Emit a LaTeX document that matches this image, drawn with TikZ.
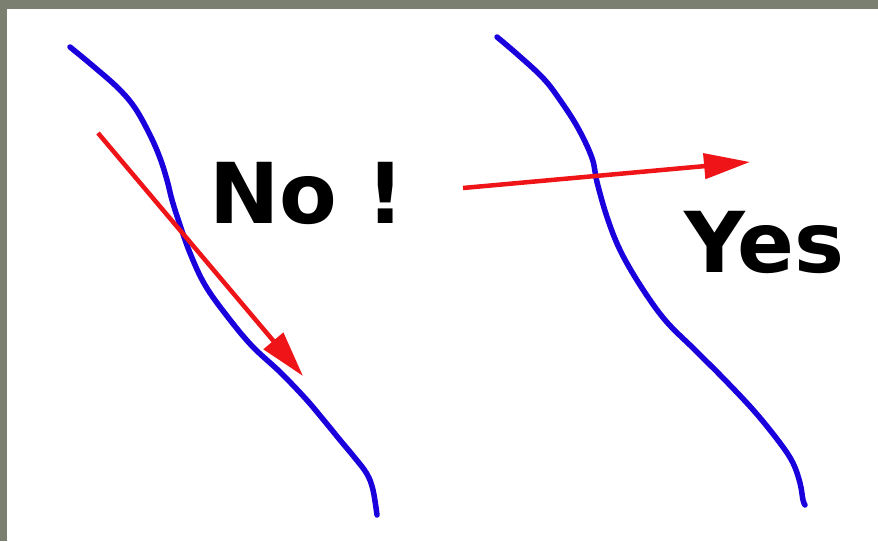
\documentclass[tikz,border=0pt]{standalone}
\usepackage{fontspec}
\setsansfont{DejaVu Sans}
\usetikzlibrary{arrows.meta}
\definecolor{frame}{HTML}{7B7F70}
\definecolor{curveblue}{HTML}{1A00DC}
\definecolor{arrowred}{HTML}{EE1418}
\tikzset{
  curve/.style={curveblue, line width=5.5pt, line cap=round, line join=round},
  redarrow/.style={arrowred, line width=4.5pt, -{Triangle[length=46pt,width=25pt]}},
  bigtext/.style={inner sep=0pt, anchor=base west, font=\sffamily\bfseries\fontsize{84}{84}\selectfont}
}
\begin{document}
\begin{tikzpicture}[x=1pt,y=-1pt]
\useasboundingbox (0,0) rectangle (878,541);
\fill[frame] (0,0) rectangle (878,541);
\fill[white] (7,9) rectangle (878,541);
% left curve
\draw[curve] plot[smooth, tension=0.6] coordinates {(70,47) (93,66) (118,88) (135,108) (150,135) (160,158) (167,180) (172,200) (179,222) (190,253) (205,285) (227,316) (252,346) (280,372) (305,398) (322,418) (340,440) (355,458) (367,474) (373,490) (377,515)};
% right curve
\draw[curve] plot[smooth, tension=0.6] coordinates {(497,37) (517,54) (543,78) (560,100) (578,128) (592,158) (597,182) (607,217) (620,250) (640,285) (665,320) (695,350) (725,380) (755,412) (780,443) (793,463) (800,483) (803,500) (805,505)};
% arrows
\coordinate (a1s) at (98,133);
\coordinate (a1e) at (303,376);
\coordinate (a2s) at (463,188);
\coordinate (a2e) at (750,162);
\draw[redarrow] (a1s) -- (a1e);
\draw[redarrow] (a2s) -- (a2e);
% labels
\node[bigtext] (no) at (209,223) {No !};
\node[bigtext] (yes) at (684,272) {Yes};
\end{tikzpicture}
\end{document}
